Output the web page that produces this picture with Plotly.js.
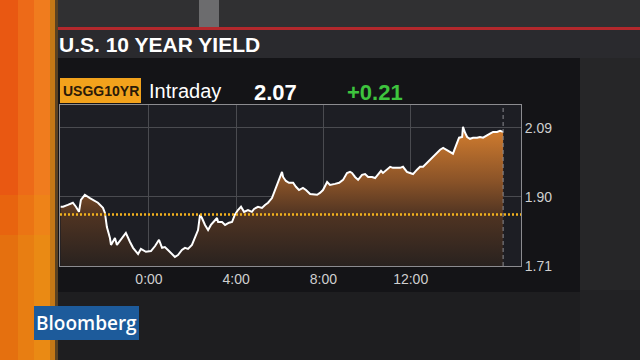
<!DOCTYPE html>
<html>
<head>
<meta charset="utf-8">
<script src="https://cdn.plot.ly/plotly-3.0.1.min.js"></script>
<style>html,body{margin:0;padding:0;background:#262628;}#chart{width:640px;height:360px;}</style>
</head>
<body>
<div id="chart"></div>
<script>
// ---- data (hours relative to 0:00, US 10Y yield) ----
const hours = [-4.05,-3.94,-3.72,-3.49,-3.35,-3.21,-3.12,-2.94,-2.71,-2.57,-2.34,-2.11,-2.02,-1.93,-1.79,-1.74,-1.56,-1.47,-1.28,-1.06,-0.87,-0.73,-0.50,-0.37,-0.14,0.09,0.28,0.46,0.60,0.73,0.87,1.06,1.19,1.33,1.51,1.65,1.79,1.97,2.11,2.25,2.34,2.43,2.57,2.71,2.84,2.94,3.12,3.17,3.35,3.49,3.67,3.81,3.94,4.08,4.22,4.36,4.54,4.72,4.82,5.00,5.18,5.32,5.46,5.64,5.78,5.92,6.01,6.10,6.15,6.28,6.42,6.61,6.74,6.88,7.06,7.20,7.39,7.52,7.71,7.84,7.98,8.17,8.30,8.53,8.72,8.90,9.08,9.22,9.31,9.45,9.59,9.77,9.91,10.05,10.23,10.37,10.50,10.64,10.73,10.92,11.06,11.19,11.38,11.51,11.65,11.83,11.97,12.11,12.29,12.43,12.57,12.75,12.89,13.03,13.12,13.21,13.35,13.49,13.62,13.76,13.94,14.04,14.13,14.22,14.36,14.40,14.50,14.59,14.72,14.86,15.05,15.18,15.32,15.50,15.64,15.78,15.96,16.10,16.24];
const yields = [1.873,1.873,1.878,1.884,1.873,1.859,1.892,1.906,1.897,1.892,1.884,1.870,1.856,1.817,1.787,1.768,1.787,1.768,1.782,1.801,1.776,1.760,1.743,1.757,1.749,1.751,1.765,1.782,1.760,1.762,1.754,1.743,1.735,1.740,1.754,1.760,1.757,1.768,1.787,1.809,1.851,1.842,1.823,1.809,1.823,1.831,1.842,1.831,1.831,1.823,1.829,1.831,1.851,1.864,1.873,1.859,1.864,1.859,1.867,1.873,1.870,1.878,1.884,1.897,1.919,1.939,1.952,1.969,1.955,1.944,1.939,1.939,1.928,1.919,1.925,1.919,1.908,1.908,1.906,1.911,1.919,1.941,1.933,1.936,1.939,1.947,1.966,1.969,1.966,1.955,1.947,1.961,1.963,1.955,1.955,1.952,1.961,1.972,1.966,1.977,1.983,1.980,1.980,1.980,1.983,1.969,1.966,1.963,1.975,1.983,1.983,1.994,2.002,2.010,2.016,2.021,2.030,2.035,2.030,2.024,2.019,2.035,2.052,2.063,2.065,2.093,2.076,2.065,2.060,2.063,2.063,2.065,2.063,2.068,2.074,2.079,2.079,2.082,2.079];
const prevClose = 1.852;
const xTickVals = [0, 4, 8, 12];
const xTickText = ["0:00", "4:00", "8:00", "12:00"];
const yTickVals = [1.71, 1.90, 2.09];
const yTickText = ["1.71", "1.90", "2.09"];
const ticker = "USGG10YR";
const periodLabel = "Intraday";
const lastValue = "2.07";
const changeValue = "+0.21";
const titleText = "U.S. 10 YEAR YIELD";
const brand = "Bloomberg";

// ---- layout helpers (pixel -> paper) ----
const PL = 60, PR = 521, PT = 105, PB = 266;
const px = x => (x - PL) / (PR - PL);
const py = y => (PB - y) / (PB - PT);
function rect(x0, y0, x1, y1, color, layer) {
  return {type: 'rect', xref: 'paper', yref: 'paper', x0: px(x0), x1: px(x1), y0: py(y1), y1: py(y0),
          fillcolor: color, line: {width: 0}, layer: layer || 'below'};
}
const FONT = 'Liberation Sans, Arial, sans-serif';
function label(text, x, y, size, color, weight, family, anchor) {
  return {text: text, xref: 'paper', yref: 'paper', x: px(x), y: py(y), showarrow: false,
          xanchor: anchor || 'left', yanchor: 'middle',
          font: {family: family || FONT, size: size, color: color, weight: weight || 'normal'}};
}

const shapes = [
  rect(0, 0, 640, 360, '#232325'),
  rect(55, 0, 640, 28, '#303032'),
  rect(199, 0, 219, 27, '#6c6c6e'),
  rect(580, 58, 640, 360, '#222224'),
  rect(580, 58, 640, 290, '#262628'),
  rect(52, 27, 640, 30, '#b3282c'),
  rect(52, 30, 640, 58, '#2a2a2e'),
  rect(58, 58, 580, 360, '#1e1e20'),
  rect(58, 58, 580, 292, '#141417'),
  // left orange strip
  rect(0, 0, 18, 195, '#e95812'),
  rect(18, 0, 34, 195, '#ed6a18'),
  rect(34, 0, 50, 195, '#f07c1e'),
  rect(0, 195, 18, 235, '#e8640f'),
  rect(18, 195, 34, 235, '#eb7414'),
  rect(34, 195, 50, 235, '#ee8318'),
  rect(0, 235, 18, 360, '#e5700f'),
  rect(18, 235, 34, 360, '#e87e12'),
  rect(34, 235, 50, 360, '#ea8a14'),
  rect(50, 0, 55, 360, '#c47816'),
  rect(55, 0, 58, 360, '#5a4222'),
  rect(PL, PT, PR, PB, '#1d1e24'),
  rect(60, 78, 141, 103, '#f2a21c'),
  rect(34, 306, 139, 340, '#1d5b9b'),
  {type: 'line', xref: 'paper', yref: 'y', x0: 0, x1: 1, y0: prevClose, y1: prevClose,
   line: {color: '#f2b21e', width: 2.5, dash: '2px,2px'}, layer: 'above'},
  {type: 'line', xref: 'x', yref: 'paper', x0: hours[hours.length - 1], x1: hours[hours.length - 1], y0: 0, y1: 1,
   line: {color: '#8a8a8e', width: 1, dash: '4px,3px'}, layer: 'above'}
];

const annotations = [
  label(titleText, 57, 44, 21, '#ffffff', 'bold'),
  label(ticker, 100.5, 91, 14, '#2a1a08', 'bold', FONT, 'center'),
  label(periodLabel, 147, 91, 20, '#ffffff'),
  label(lastValue, 252, 92, 22, '#ffffff', 'bold'),
  label(changeValue, 345, 92, 22, '#3ec43e', 'bold'),
  label(brand, 86.5, 323, 19, '#ffffff', '600', 'Open Sans, Liberation Sans, sans-serif', 'center')
];

const traces = [{
  x: hours, y: yields, type: 'scatter', mode: 'lines',
  fill: 'tozeroy',
  fillgradient: {type: 'vertical', start: 1.71, stop: 2.10,
    colorscale: [[0, '#29221f'], [0.35, '#4e3322'], [0.6, '#8a5328'], [1, '#d8802f']]},
  line: {color: '#ffffff', width: 2},
  hoverinfo: 'skip'
}];

const layout = {
  width: 640, height: 360,
  margin: {l: PL, r: 640 - PR, t: PT, b: 360 - PB, pad: 0},
  paper_bgcolor: '#232325', plot_bgcolor: '#1d1e24',
  showlegend: false,
  xaxis: {range: [-4.08, 17.06], tickvals: xTickVals, ticktext: xTickText, showgrid: true,
          gridcolor: '#4a4b50', gridwidth: 1, zeroline: false, showline: true, mirror: true,
          linecolor: '#8c8c90', linewidth: 1, ticks: '', fixedrange: true,
          tickfont: {family: FONT, size: 14, color: '#cfcfcf'}},
  yaxis: {range: [1.71, 2.153], tickvals: yTickVals, ticktext: yTickText, side: 'right', showgrid: true,
          gridcolor: '#4a4b50', gridwidth: 1, zeroline: false, showline: true, mirror: true,
          linecolor: '#8c8c90', linewidth: 1, ticks: '', fixedrange: true,
          tickfont: {family: FONT, size: 14, color: '#cfcfcf'}},
  shapes: shapes,
  annotations: annotations
};

Plotly.newPlot('chart', traces, layout, {staticPlot: true, displayModeBar: false});
</script>
</body>
</html>
